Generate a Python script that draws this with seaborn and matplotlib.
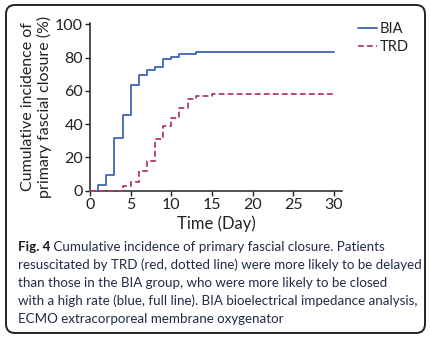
import matplotlib
matplotlib.use("Agg")
import matplotlib.pyplot as plt
from matplotlib.patches import FancyBboxPatch
import pandas as pd
import seaborn as sns

# Cumulative incidence (%) of primary fascial closure by day
bia_days = [0, 1, 2, 3, 4, 5, 6, 7, 8, 9, 10, 11, 13, 30]
bia_pct = [0, 3.2, 9.3, 31.7, 45.4, 63.5, 69.6, 72.6, 74.4, 79.0, 80.4, 82.1, 83.3, 83.3]
trd_days = [0, 4, 5, 6, 7, 8, 9, 10, 11, 12, 13, 15, 30]
trd_pct = [0, 3.0, 5.5, 11.7, 17.7, 31.0, 38.7, 44.0, 50.0, 55.0, 57.0, 58.3, 58.3]
groups = ["BIA", "TRD"]
x_ticks = [0, 5, 10, 15, 20, 25, 30]
y_ticks = [0, 20, 40, 60, 80, 100]

df = pd.concat([
    pd.DataFrame({"day": bia_days, "pct": bia_pct, "group": groups[0]}),
    pd.DataFrame({"day": trd_days, "pct": trd_pct, "group": groups[1]}),
], ignore_index=True)

sns.set_theme(style="ticks")
plt.rcParams["font.family"] = ["Lato", "DejaVu Sans"]
text_col = "#222222"
plt.rcParams.update({
    "axes.edgecolor": text_col,
    "xtick.color": text_col,
    "ytick.color": text_col,
    "axes.labelcolor": text_col,
    "text.color": text_col,
})

fig = plt.figure(figsize=(4.30, 3.39), dpi=100)
ax = fig.add_axes([0.2093, 0.4375, 0.586, 0.4955])

palette = {"BIA": "#3f64b4", "TRD": "#b23a66"}
dashes = {"BIA": "", "TRD": (3.2, 1.8)}
sns.lineplot(data=df, x="day", y="pct", hue="group", style="group",
             palette=palette, dashes=dashes, estimator=None,
             drawstyle="steps-post", linewidth=1.3, ax=ax, legend=True)
for ln in ax.lines:
    ln.set_clip_on(False)
    ln.set_zorder(3)

ax.set_xlim(0, 31)
ax.set_ylim(0, 101)
ax.set_xticks(x_ticks)
ax.set_yticks(y_ticks)
ax.tick_params(direction="out", length=3.5, width=1.0, labelsize=11.5, pad=1.5)
for s in ("left", "bottom"):
    ax.spines[s].set_linewidth(1.1)
    ax.spines[s].set_zorder(2)
sns.despine(ax=ax)

ax.set_xlabel("Time (Day)", fontsize=12, labelpad=3)
ax.set_ylabel("Cumulative incidence of\nprimary fascial closure (%)",
              fontsize=11.5, labelpad=2, linespacing=1.15)

handles, labels = ax.get_legend_handles_labels()
ax.legend(handles, labels, loc="upper left",
          bbox_to_anchor=(358 / 430, (339 - 22) / 339),
          bbox_transform=fig.transFigure, frameon=False, fontsize=10.5,
          handlelength=1.3, handletextpad=0.2, labelspacing=0.3,
          borderpad=0, borderaxespad=0)

# rounded frame around figure and caption
frame = FancyBboxPatch((6, 6), 419, 328, boxstyle="round,pad=0,rounding_size=9",
                       transform=None, facecolor="none", edgecolor="#222222",
                       linewidth=1.4, figure=fig)
fig.patches.append(frame)

cap_col = "#1f2b48"
cap_fs = 9.6
x0 = 17.5 / 430
t1 = fig.text(x0, 1 - 251 / 339, "Fig. 4", fontsize=cap_fs, fontweight="bold",
              color="#1a1a1a", va="baseline")
ax.annotate(" Cumulative incidence of primary fascial closure. Patients",
            xy=(1, 0), xycoords=t1, va="bottom", ha="left",
            fontsize=cap_fs, color=cap_col, annotation_clip=False)

lines = [
    "resuscitated by TRD (red, dotted line) were more likely to be delayed",
    "than those in the BIA group, who were more likely to be closed",
    "with a high rate (blue, full line). BIA bioelectrical impedance analysis,",
    "ECMO extracorporeal membrane oxygenator",
]
for i, line in enumerate(lines):
    fig.text(x0, 1 - (269.3 + 18 * i) / 339, line, fontsize=cap_fs,
             color=cap_col, va="baseline")

fig.savefig("out.png", dpi=100)
